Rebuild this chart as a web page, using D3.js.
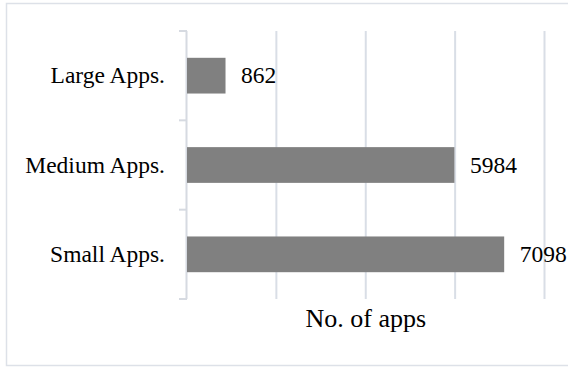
<!DOCTYPE html>
<html>
<head>
<meta charset="utf-8">
<script src="https://cdn.jsdelivr.net/npm/d3@7"></script>
<style>
  html, body { margin: 0; padding: 0; background: #fff; }
  svg { display: block; }
</style>
</head>
<body>
<svg id="chart" width="568" height="367"></svg>
<script>
// App counts by size class
const categories = ["Large Apps.", "Medium Apps.", "Small Apps."];
const appCounts = [862, 5984, 7098];
const gridTicks = [2000, 4000, 6000, 8000];
const axisTitle = "No. of apps";

const FONT = "'Liberation Serif', 'Times New Roman', Tinos";

const svg = d3.select("#chart");
const W = 568, H = 367;
const plot = { left: 187, right: 544.5, top: 31, bottom: 299 };

// Outer frame (open on the right)
svg.append("path")
  .attr("d", `M${W + 2},3.5 H6.5 V365.5 H${W + 2}`)
  .attr("fill", "none")
  .attr("stroke", "#dde1e8")
  .attr("stroke-width", 1.5);

const x = d3.scaleLinear().domain([0, 8000]).range([plot.left, plot.right]);
const y = d3.scaleBand().domain(categories).range([plot.top, plot.bottom])
  .paddingInner(0.6).paddingOuter(0.3);

// Vertical gridlines
svg.append("g").selectAll("line").data(gridTicks).join("line")
  .attr("x1", d => x(d)).attr("x2", d => x(d))
  .attr("y1", plot.top).attr("y2", plot.bottom)
  .attr("stroke", "#d9dee6").attr("stroke-width", 2);

// Category axis line with ticks at band boundaries
const boundaries = d3.range(categories.length + 1).map(i => plot.top + i * (plot.bottom - plot.top) / categories.length);
const axisG = svg.append("g");
axisG.append("line")
  .attr("x1", x(0) - 0.5).attr("x2", x(0) - 0.5)
  .attr("y1", plot.top).attr("y2", plot.bottom)
  .attr("stroke", "#d6dae1").attr("stroke-width", 2);
axisG.selectAll("line.tick").data(boundaries).join("line")
  .attr("class", "tick")
  .attr("x1", x(0) - 8).attr("x2", x(0))
  .attr("y1", d => d).attr("y2", d => d)
  .attr("stroke", "#d6dae1").attr("stroke-width", 2);

// Bars
svg.append("g").selectAll("rect").data(appCounts).join("rect")
  .attr("x", x(0))
  .attr("y", (d, i) => y(categories[i]))
  .attr("width", d => x(d) - x(0))
  .attr("height", y.bandwidth())
  .attr("fill", "#808080");

// Value labels
svg.append("g").selectAll("text").data(appCounts).join("text")
  .attr("x", d => x(d) + 15.5)
  .attr("y", (d, i) => y(categories[i]) + y.bandwidth() / 2)
  .attr("dy", "0.33em")
  .style("font-family", FONT)
  .style("font-size", "23.5px")
  .attr("fill", "#000")
  .text(d => d);

// Category labels
svg.append("g").selectAll("text").data(categories).join("text")
  .attr("x", 165)
  .attr("y", d => y(d) + y.bandwidth() / 2)
  .attr("dy", "0.33em")
  .attr("text-anchor", "end")
  .style("font-family", FONT)
  .style("font-size", "23.5px")
  .attr("fill", "#000")
  .text(d => d);

// Axis title
svg.append("text")
  .attr("x", (plot.left + plot.right) / 2)
  .attr("y", 327)
  .attr("text-anchor", "middle")
  .style("font-family", FONT)
  .style("font-size", "26px")
  .attr("fill", "#000")
  .text(axisTitle);
</script>
</body>
</html>
